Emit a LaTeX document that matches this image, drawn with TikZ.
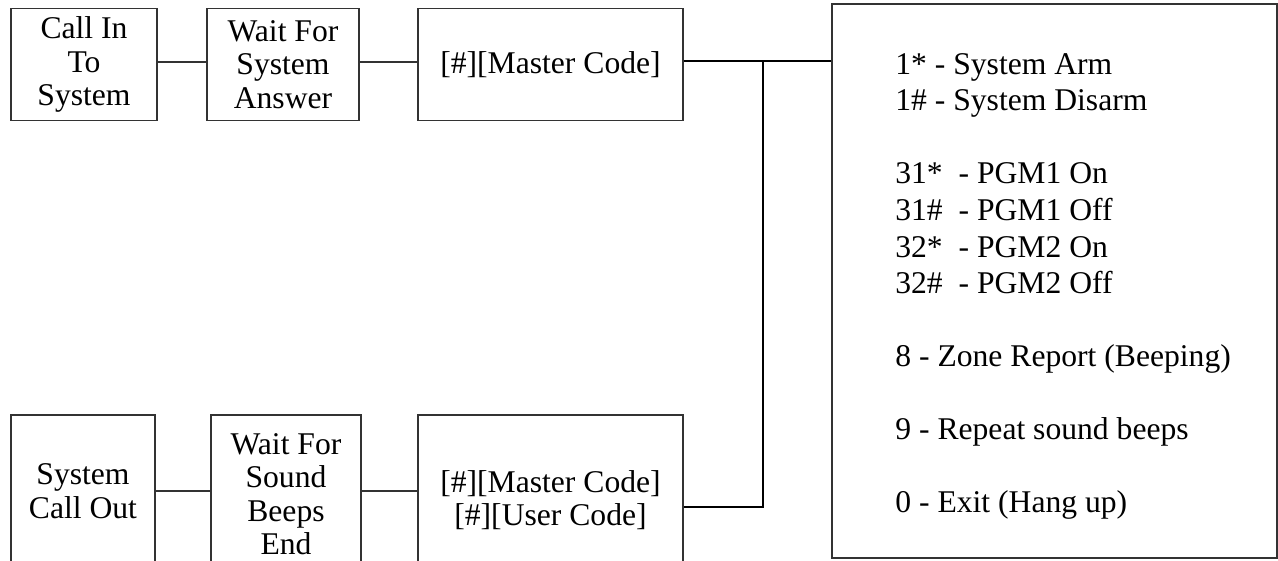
\documentclass[tikz,border=0pt]{standalone}
\usepackage{fontspec}
\setmainfont{Liberation Serif}
\usepackage{tikz}

\tikzset{
	stepbox/.style={draw=black!80, line width=0.8pt, align=center, inner sep=0pt,
		font=\fontsize{18}{19}\selectfont},
	thinline/.style={draw=black!80, line width=0.8pt},
	thickline/.style={draw=black, line width=1.3pt},
}

\begin{document}
\begin{tikzpicture}[x=0.02cm, y=-0.02cm]
	\clip (0,0) rectangle (1278,561);
	% call in path
	\node[stepbox, minimum width=2.92cm, minimum height=2.24cm] (callin) at (84,64.5) {Call In\\To\\System};
	\node[stepbox, minimum width=3.04cm, minimum height=2.24cm] (waitans) at (283,64.5) {Wait For\\System\\Answer};
	\node[stepbox, minimum width=5.3cm, minimum height=2.24cm] (master) at (550.5,64.5) {[\#][Master Code]};
	% call out path
	\node[stepbox, minimum width=2.88cm, minimum height=3.04cm] (callout) at (83,491) {System\\Call Out};
	\node[stepbox, minimum width=3.0cm, minimum height=3.16cm] (waitbeep) at (286,494) {Wait For\\Sound\\Beeps\\End};
	\node[stepbox, minimum width=5.3cm, minimum height=3.4cm] (usercode) at (550.5,500) {[\#][Master Code]\\{}[\#][User Code]};
	% menu
	\node[stepbox, minimum width=8.9cm, minimum height=11.08cm] (menu) at (1054.5,281) {};
	\node[anchor=west, align=left, inner sep=0pt, font=\fontsize{18}{20.8}\selectfont] (menulist) at (895,286.5) {%
		1* - System Arm\\
		1\# - System Disarm\\[20.8pt]
		31*~~- PGM1 On\\
		31\#~~- PGM1 Off\\
		32*~~- PGM2 On\\
		32\#~~- PGM2 Off\\[20.8pt]
		8 - Zone Report (Beeping)\\[20.8pt]
		9 - Repeat sound beeps\\[20.8pt]
		0 - Exit (Hang up)};
	\coordinate (jtop) at (763,61);
	\coordinate (jbot) at (763,507);
	\draw[thinline] (callin.east |- 0,62) -- (waitans.west |- 0,62);
	\draw[thinline] (waitans.east |- 0,62) -- (master.west |- 0,62);
	\draw[thinline] (callout.east) -- (waitbeep.west |- callout.east);
	\draw[thinline] (waitbeep.east |- callout.east) -- (usercode.west |- callout.east);
	\draw[thickline] (master.east |- jtop) -- (menu.west |- jtop);
	\draw[thickline] (jtop) -- (jbot) -- (jbot -| usercode.east);
\end{tikzpicture}
\end{document}
